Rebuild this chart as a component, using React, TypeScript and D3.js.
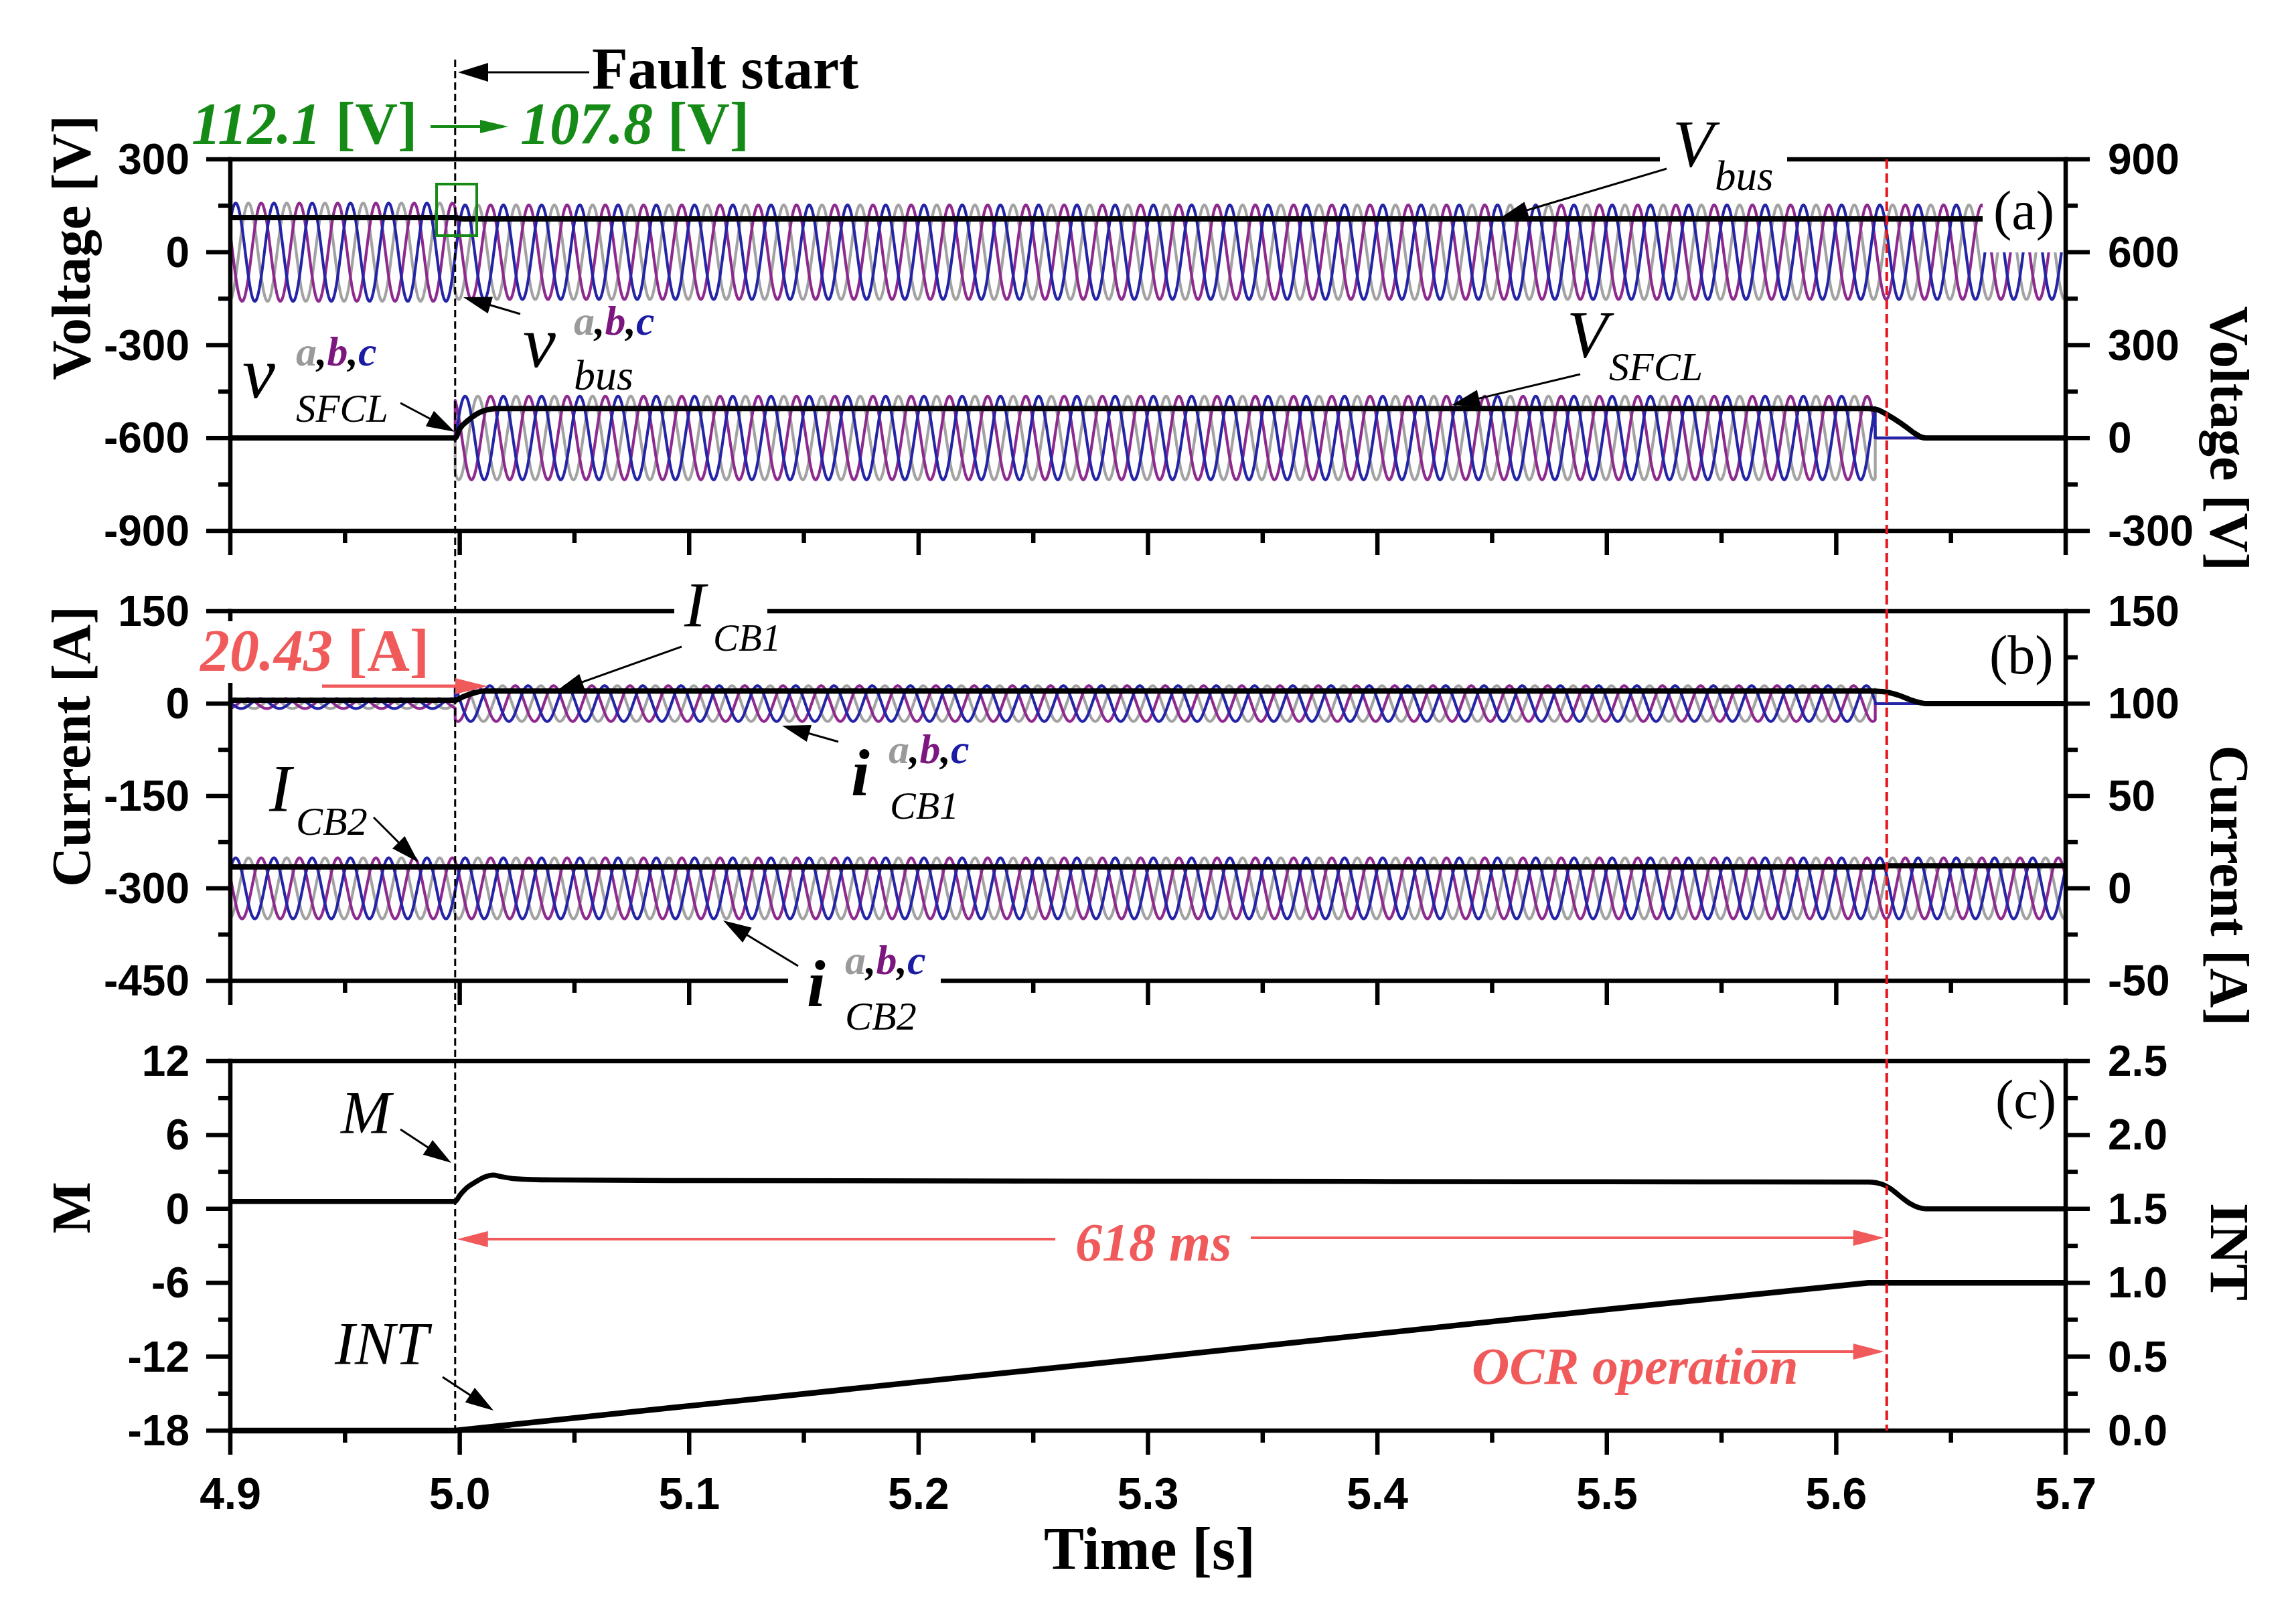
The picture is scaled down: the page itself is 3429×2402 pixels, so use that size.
import React from "react";
import * as d3 from "d3";

// ---------------- data ----------------
const TIME_DOMAIN: [number, number] = [4.9, 5.7];
const TIME_MAJOR = [4.9, 5.0, 5.1, 5.2, 5.3, 5.4, 5.5, 5.6, 5.7];
const TIME_LABELS = ["4.9", "5.0", "5.1", "5.2", "5.3", "5.4", "5.5", "5.6", "5.7"];
const TIME_MINOR = [4.95, 5.05, 5.15, 5.25, 5.35, 5.45, 5.55, 5.65];

const FAULT_T = 4.998;
const TRIP_T = 5.622;
const GRID_HZ = 60;
const PHASE_SHIFTS_DEG = [0, -120, 120]; // a, b, c
const PHASE_COLORS = ["#a2a2a2", "#8e2a8e", "#2424a6"];
const LABEL_COLORS = ["#9a9a9a", "#7d1780", "#1b1ba3"];

// panel (a) – voltage
const VA_L_DOMAIN = [-900, 300];
const VA_R_DOMAIN = [-300, 900];
const VA_L_MAJOR = [300, 0, -300, -600, -900];
const VA_L_MINOR = [150, -150, -450, -750];
const VA_R_MAJOR = [900, 600, 300, 0, -300];
const VA_R_MINOR = [750, 450, 150, -150];
const VBUS_PEAK_T = 4.9079; // time of a-phase peak
const VBUS_AMP: [number, number, number][] = [[4.9, FAULT_T, 158.5], [FAULT_T, 5.7, 152.5]];
const VBUS_RMS: [number, number][] = [[4.9, 112.1], [FAULT_T, 112.1], [5.001, 107.8], [5.7, 107.8]];
const VSFCL_PEAK_T = 4.9079;
const VSFCL_AMP: [number, number, number][] = [[4.9, FAULT_T, 0], [FAULT_T, 5.617, 135], [5.617, 5.7, 0]];
const VSFCL_RMS: [number, number][] = [
  [4.9, 0], [4.998, 0], [5.0, 30], [5.0035, 56], [5.0075, 78], [5.0105, 88], [5.0135, 93], [5.0155, 95],
  [5.614, 95], [5.618, 91], [5.622, 76], [5.626, 58], [5.63, 38], [5.634, 16], [5.637, 3], [5.639, 0], [5.7, 0],
];

// panel (b) – current
const CB_L_DOMAIN = [-450, 150];
const CB_R_DOMAIN = [-50, 150];
const CB_L_MAJOR = [150, 0, -150, -300, -450];
const CB_L_MINOR = [75, -75, -225, -375];
const CB_R_MAJOR = [150, 100, 50, 0, -50];
const CB_R_MINOR = [125, 75, 25, -25];
const ICB1_PEAK_T = 4.902;
const ICB1_AMP: [number, number, number][] = [[4.9, FAULT_T, 8], [FAULT_T, 5.617, 29], [5.617, 5.7, 0]];
const ICB1_RMS: [number, number][] = [
  [4.9, 5.5], [4.998, 5.5], [5.002, 12], [5.006, 17], [5.0105, 20.4], [5.614, 20.4], [5.62, 19.5],
  [5.624, 17], [5.628, 12.5], [5.632, 6.5], [5.636, 2], [5.639, 0], [5.7, 0],
];
const ICB2_PEAK_T = 4.9079;
const ICB2_AMP: [number, number, number][] = [[4.9, 5.7, 16.5]];
const ICB2_RMS: [number, number][] = [[4.9, 11.6], [5.621, 11.6], [5.623, 12.2], [5.7, 12.2]];

// panel (c) – M and INT
const MC_L_DOMAIN = [-18, 12];
const MC_R_DOMAIN = [0, 2.5];
const MC_L_MAJOR = [12, 6, 0, -6, -12, -18];
const MC_L_MINOR = [9, 3, -3, -9, -15];
const MC_R_MAJOR = [2.5, 2.0, 1.5, 1.0, 0.5, 0.0];
const MC_R_LABELS = ["2.5", "2.0", "1.5", "1.0", "0.5", "0.0"];
const MC_R_MINOR = [2.25, 1.75, 1.25, 0.75, 0.25];
const M_SERIES: [number, number][] = [
  [4.9, 0.6], [4.998, 0.6], [5.0, 1.1], [5.003, 1.7], [5.007, 2.2], [5.011, 2.6], [5.0145, 2.75],
  [5.018, 2.62], [5.024, 2.45], [5.04, 2.35], [5.1, 2.3], [5.3, 2.25], [5.5, 2.2], [5.614, 2.18],
  [5.62, 2.0], [5.624, 1.6], [5.628, 1.0], [5.632, 0.45], [5.636, 0.1], [5.639, 0], [5.7, 0],
];
const INT_SERIES: [number, number][] = [
  [4.9, 0], [4.998, 0], [5.1, 0.167], [5.2, 0.33], [5.3, 0.49], [5.4, 0.655], [5.5, 0.82], [5.614, 1.0], [5.7, 1.0],
];

// ---------------- helpers ----------------
const SERIF = "'Liberation Serif','Times New Roman',Times,serif";
const SANS = "'Liberation Sans',Arial,Helvetica,sans-serif";
const RED = "#f05a5a";
const GREEN = "#168a16";

function threePhase(amps: [number, number, number][], peakT: number) {
  const ts: number[] = [];
  for (let i = 0; i <= 4000; i++) ts.push(4.9 + i * 0.0002);
  amps.forEach((s) => {
    ts.push(s[0] - 1e-7);
    ts.push(s[0]);
  });
  ts.sort((a, b) => a - b);
  const tt = ts.filter((t) => t >= 4.9 && t <= 5.7);
  return PHASE_SHIFTS_DEG.map((sh) =>
    tt.map((t) => {
      const seg = amps.find((s) => t >= s[0] && t < s[1]) || amps[amps.length - 1];
      const v = seg[2] * Math.cos(2 * Math.PI * GRID_HZ * (t - peakT) + (sh * Math.PI) / 180);
      return [t, v] as [number, number];
    })
  );
}

function Arrow({ x1, y1, x2, y2, color = "#000", w = 3, hl = 42, hw = 13 }: any) {
  const a = Math.atan2(y2 - y1, x2 - x1);
  const c = Math.cos(a), s = Math.sin(a);
  const bx = x2 - hl * c, by = y2 - hl * s;
  const px = -s, py = c;
  return (
    <g>
      <line x1={x1} y1={y1} x2={bx + 0.3 * hl * c} y2={by + 0.3 * hl * s} stroke={color} strokeWidth={w} />
      <polygon
        points={`${x2},${y2} ${bx + px * hw},${by + py * hw} ${bx - px * hw},${by - py * hw}`}
        fill={color}
      />
    </g>
  );
}

const X0 = 344, X1 = 3085;
const MAJ = 36, MIN = 18, AXW = 6.5;

function Panel({ top, bottom, yL, yR, lMajor, lMinor, rMajor, rMinor, lLabels, rLabels, x }: any) {
  const els: any[] = [];
  els.push(<line key="top" x1={X0} x2={X1} y1={top} y2={top} stroke="#000" strokeWidth={AXW} strokeLinecap="square" />);
  els.push(<line key="bot" x1={X0} x2={X1} y1={bottom} y2={bottom} stroke="#000" strokeWidth={AXW} strokeLinecap="square" />);
  els.push(<line key="l" x1={X0} x2={X0} y1={top} y2={bottom} stroke="#000" strokeWidth={AXW} strokeLinecap="square" />);
  els.push(<line key="r" x1={X1} x2={X1} y1={top} y2={bottom} stroke="#000" strokeWidth={AXW} strokeLinecap="square" />);
  lMajor.forEach((v: number, i: number) => {
    const y = yL(v);
    els.push(<line key={"lM" + i} x1={X0 - MAJ} x2={X0} y1={y} y2={y} stroke="#000" strokeWidth={AXW} />);
    els.push(
      <text key={"lt" + i} x={283} y={y + 22} textAnchor="end" fontFamily={SANS} fontWeight="bold" fontSize={64}>
        {lLabels ? lLabels[i] : String(v)}
      </text>
    );
  });
  lMinor.forEach((v: number, i: number) => {
    const y = yL(v);
    els.push(<line key={"lm" + i} x1={X0 - MIN} x2={X0} y1={y} y2={y} stroke="#000" strokeWidth={AXW} />);
  });
  rMajor.forEach((v: number, i: number) => {
    const y = yR(v);
    els.push(<line key={"rM" + i} x1={X1} x2={X1 + MAJ} y1={y} y2={y} stroke="#000" strokeWidth={AXW} />);
    els.push(
      <text key={"rt" + i} x={3148} y={y + 22} textAnchor="start" fontFamily={SANS} fontWeight="bold" fontSize={64}>
        {rLabels ? rLabels[i] : String(v)}
      </text>
    );
  });
  rMinor.forEach((v: number, i: number) => {
    const y = yR(v);
    els.push(<line key={"rm" + i} x1={X1} x2={X1 + MIN} y1={y} y2={y} stroke="#000" strokeWidth={AXW} />);
  });
  TIME_MAJOR.forEach((t, i) => {
    els.push(<line key={"xM" + i} x1={x(t)} x2={x(t)} y1={bottom} y2={bottom + MAJ} stroke="#000" strokeWidth={AXW} />);
  });
  TIME_MINOR.forEach((t, i) => {
    els.push(<line key={"xm" + i} x1={x(t)} x2={x(t)} y1={bottom} y2={bottom + MIN} stroke="#000" strokeWidth={AXW} />);
  });
  return <g>{els}</g>;
}

function Abc({ x, y, size = 62 }: any) {
  return (
    <text x={x} y={y} fontFamily={SERIF} fontStyle="italic" fontWeight="bold" fontSize={size}>
      <tspan fill={LABEL_COLORS[0]}>a</tspan>
      <tspan fill="#000">,</tspan>
      <tspan fill={LABEL_COLORS[1]}>b</tspan>
      <tspan fill="#000">,</tspan>
      <tspan fill={LABEL_COLORS[2]}>c</tspan>
    </text>
  );
}

export default function App() {
  const x = d3.scaleLinear().domain(TIME_DOMAIN).range([X0, X1]);
  const A = { top: 238, bottom: 793 };
  const B = { top: 913, bottom: 1465 };
  const C = { top: 1585, bottom: 2137 };
  const yaL = d3.scaleLinear().domain(VA_L_DOMAIN).range([A.bottom, A.top]);
  const yaR = d3.scaleLinear().domain(VA_R_DOMAIN).range([A.bottom, A.top]);
  const ybL = d3.scaleLinear().domain(CB_L_DOMAIN).range([B.bottom, B.top]);
  const ybR = d3.scaleLinear().domain(CB_R_DOMAIN).range([B.bottom, B.top]);
  const ycL = d3.scaleLinear().domain(MC_L_DOMAIN).range([C.bottom, C.top]);
  const ycR = d3.scaleLinear().domain(MC_R_DOMAIN).range([C.bottom, C.top]);

  const mk = (ys: any, curve: any = d3.curveLinear) =>
    d3.line<[number, number]>().x((d) => x(d[0])).y((d) => ys(d[1])).curve(curve);

  const vbus = threePhase(VBUS_AMP, VBUS_PEAK_T);
  const vsfcl = threePhase(VSFCL_AMP, VSFCL_PEAK_T);
  const icb1 = threePhase(ICB1_AMP, ICB1_PEAK_T);
  const icb2 = threePhase(ICB2_AMP, ICB2_PEAK_T);

  const phasePaths = (sets: [number, number][][], ys: any, key: string) =>
    sets.map((pts, i) => (
      <path key={key + i} d={mk(ys)(pts) || ""} fill="none" stroke={PHASE_COLORS[i]} strokeWidth={4.2} strokeLinejoin="round" />
    ));
  const blk = (pts: [number, number][], ys: any, key: string, w = 8, curve: any = d3.curveMonotoneX) => (
    <path key={key} d={mk(ys, curve)(pts) || ""} fill="none" stroke="#000" strokeWidth={w} strokeLinejoin="round" strokeLinecap="butt" />
  );

  const xf = x(FAULT_T);
  const xt = x(TRIP_T);

  return (
    <svg width={3429} height={2402} style={{ position: "absolute", left: 0, top: 0, background: "#fff" }}>
      <rect x={0} y={0} width={3429} height={2402} fill="#fff" />

      {/* data panel a */}
      {phasePaths(vbus, yaL, "vb")}
      {phasePaths(vsfcl, yaR, "vs")}
      {blk(VBUS_RMS, yaL, "vbr")}
      {blk(VSFCL_RMS, yaR, "vsr")}

      {/* data panel b */}
      {phasePaths(icb1, ybL, "i1")}
      {phasePaths(icb2, ybR, "i2")}
      {blk(ICB1_RMS, ybL, "i1r")}
      {blk(ICB2_RMS, ybR, "i2r")}

      {/* data panel c */}
      {blk(M_SERIES, ycL, "m", 7.5)}
      {blk(INT_SERIES, ycR, "int", 8.5, d3.curveLinear)}

      {/* white mask behind (a) */}
      <rect x={2961} y={268} width={121} height={109} fill="#fff" />

      <Panel top={A.top} bottom={A.bottom} yL={yaL} yR={yaR} lMajor={VA_L_MAJOR} lMinor={VA_L_MINOR} rMajor={VA_R_MAJOR} rMinor={VA_R_MINOR} x={x} />
      <Panel top={B.top} bottom={B.bottom} yL={ybL} yR={ybR} lMajor={CB_L_MAJOR} lMinor={CB_L_MINOR} rMajor={CB_R_MAJOR} rMinor={CB_R_MINOR} x={x} />
      <Panel top={C.top} bottom={C.bottom} yL={ycL} yR={ycR} lMajor={MC_L_MAJOR} lMinor={MC_L_MINOR} rMajor={MC_R_MAJOR} rMinor={MC_R_MINOR} rLabels={MC_R_LABELS} x={x} />

      {/* x tick labels */}
      {TIME_MAJOR.map((t, i) => (
        <text key={"xl" + i} x={x(t)} y={2254} textAnchor="middle" fontFamily={SANS} fontWeight="bold" fontSize={66}>
          {TIME_LABELS[i]}
        </text>
      ))}

      {/* masks over frame lines for labels */}
      <rect x={2479} y={222} width={190} height={30} fill="#fff" />
      <rect x={1007} y={900} width={139} height={26} fill="#fff" />
      <rect x={1177} y={1452} width={228} height={60} fill="#fff" />
      <rect x={292} y={928} width={360} height={92} fill="#fff" />

      {/* vertical marker lines */}
      <line x1={xf} x2={xf} y1={89} y2={C.bottom} stroke="#000" strokeWidth={3} strokeDasharray="11,6" />
      <line x1={xt} x2={xt} y1={A.top} y2={C.bottom} stroke="#e8141c" strokeWidth={4} strokeDasharray="14,7" />

      {/* axis titles */}
      <text transform="translate(134,370) rotate(-90)" textAnchor="middle" fontFamily={SERIF} fontWeight="bold" fontSize={82}>Voltage [V]</text>
      <text transform="translate(134,1115) rotate(-90)" textAnchor="middle" fontFamily={SERIF} fontWeight="bold" fontSize={82}>Current [A]</text>
      <text transform="translate(134,1804) rotate(-90)" textAnchor="middle" fontFamily={SERIF} fontWeight="bold" fontSize={82}>M</text>
      <text transform="translate(3302,655) rotate(90)" textAnchor="middle" fontFamily={SERIF} fontWeight="bold" fontSize={82}>Voltage [V]</text>
      <text transform="translate(3302,1323) rotate(90)" textAnchor="middle" fontFamily={SERIF} fontWeight="bold" fontSize={82}>Current [A]</text>
      <text transform="translate(3302,1870) rotate(90)" textAnchor="middle" fontFamily={SERIF} fontWeight="bold" fontSize={82}>INT</text>
      <text x={1717} y={2344} textAnchor="middle" fontFamily={SERIF} fontWeight="bold" fontSize={90}>Time [s]</text>

      {/* panel labels */}
      <text x={2977} y={342} fontFamily={SERIF} fontSize={82}>(a)</text>
      <text x={2971} y={1006} fontFamily={SERIF} fontSize={82}>(b)</text>
      <text x={2980} y={1670} fontFamily={SERIF} fontSize={82}>(c)</text>

      {/* Fault start */}
      <text x={884} y={132} fontFamily={SERIF} fontWeight="bold" fontSize={88}>Fault start</text>
      <Arrow x1={880} y1={108} x2={684} y2={108} hl={45} hw={14} />

      {/* green annotation */}
      <text x={286} y={214} fontFamily={SERIF} fontWeight="bold" fontSize={88} fill={GREEN}>
        <tspan fontStyle="italic">112.1</tspan> [V]
      </text>
      <text x={777} y={214} fontFamily={SERIF} fontWeight="bold" fontSize={88} fill={GREEN}>
        <tspan fontStyle="italic">107.8</tspan> [V]
      </text>
      <Arrow x1={643} y1={189} x2={759} y2={189} color={GREEN} w={4} hl={42} hw={10} />
      <rect x={652} y={275} width={60} height={77} fill="none" stroke={GREEN} strokeWidth={4} />

      {/* V_bus */}
      <text x={2498} y={248} fontFamily={SERIF} fontStyle="italic" fontSize={100}>V</text>
      <text x={2561} y={284} fontFamily={SERIF} fontStyle="italic" fontSize={63}>bus</text>
      <Arrow x1={2489} y1={252} x2={2240} y2={326} />

      {/* v_bus abc */}
      <text x={781} y={548} fontFamily={SERIF} fontStyle="italic" fontSize={110}>v</text>
      <Abc x={857} y={500} />
      <text x={857} y={582} fontFamily={SERIF} fontStyle="italic" fontSize={64}>bus</text>
      <Arrow x1={777} y1={469} x2={692} y2={444} />

      {/* v_SFCL abc */}
      <text x={362} y={594} fontFamily={SERIF} fontStyle="italic" fontSize={110}>v</text>
      <Abc x={442} y={546} />
      <text x={442} y={630} fontFamily={SERIF} fontStyle="italic" fontSize={59}>SFCL</text>
      <Arrow x1={598} y1={602} x2={679} y2={645} />

      {/* V_SFCL */}
      <text x={2340} y={533} fontFamily={SERIF} fontStyle="italic" fontSize={100}>V</text>
      <text x={2403} y={568} fontFamily={SERIF} fontStyle="italic" fontSize={60}>SFCL</text>
      <Arrow x1={2360} y1={559} x2={2168} y2={605} />

      {/* 20.43 A */}
      <text x={299} y={1001} fontFamily={SERIF} fontWeight="bold" fontSize={88} fill={RED}>
        <tspan fontStyle="italic">20.43</tspan> [A]
      </text>
      <Arrow x1={481} y1={1025} x2={728} y2={1025} color={RED} w={5} hl={48} hw={12} />

      {/* I_CB1 */}
      <text x={1022} y={936} fontFamily={SERIF} fontStyle="italic" fontSize={96}>I</text>
      <text x={1065} y={972} fontFamily={SERIF} fontStyle="italic" fontSize={57}>CB1</text>
      <Arrow x1={1018} y1={966} x2={830} y2={1033} />

      {/* i_CB1 */}
      <text x={1271} y={1188} fontFamily={SERIF} fontStyle="italic" fontWeight="bold" fontSize={100}>i</text>
      <Abc x={1327} y={1140} />
      <text x={1329} y={1223} fontFamily={SERIF} fontStyle="italic" fontSize={58}>CB1</text>
      <Arrow x1={1252} y1={1108} x2={1168} y2={1084} />

      {/* I_CB2 */}
      <text x={402} y={1211} fontFamily={SERIF} fontStyle="italic" fontSize={100}>I</text>
      <text x={442} y={1247} fontFamily={SERIF} fontStyle="italic" fontSize={60}>CB2</text>
      <Arrow x1={558} y1={1221} x2={625} y2={1288} />

      {/* i_CB2 */}
      <text x={1205} y={1503} fontFamily={SERIF} fontStyle="italic" fontWeight="bold" fontSize={100}>i</text>
      <Abc x={1262} y={1455} />
      <text x={1262} y={1538} fontFamily={SERIF} fontStyle="italic" fontSize={60}>CB2</text>
      <Arrow x1={1192} y1={1443} x2={1080} y2={1375} />

      {/* M and INT */}
      <text x={509} y={1693} fontFamily={SERIF} fontStyle="italic" fontSize={90}>M</text>
      <Arrow x1={598} y1={1687} x2={674} y2={1737} />
      <text x={500} y={2038} fontFamily={SERIF} fontStyle="italic" fontSize={90}>INT</text>
      <Arrow x1={661} y1={2057} x2={737} y2={2107} />

      {/* 618 ms */}
      <Arrow x1={1576} y1={1851} x2={xf + 3} y2={1851} color={RED} w={4} hl={46} hw={12} />
      <Arrow x1={1868} y1={1849} x2={xt - 4} y2={1849} color={RED} w={4} hl={46} hw={12} />
      <text x={1606} y={1883} fontFamily={SERIF} fontStyle="italic" fontWeight="bold" fontSize={80} fill={RED}>618 ms</text>

      {/* OCR operation */}
      <text x={2198} y={2067} fontFamily={SERIF} fontStyle="italic" fontWeight="bold" fontSize={78} fill={RED}>OCR operation</text>
      <Arrow x1={2616} y1={2019} x2={xt - 4} y2={2019} color={RED} w={4} hl={46} hw={12} />
    </svg>
  );
}
